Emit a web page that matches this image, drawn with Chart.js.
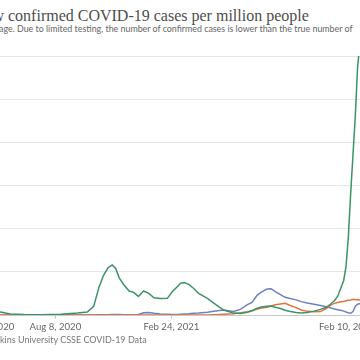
<!DOCTYPE html>
<html>
<head>
<meta charset="utf-8">
<script src="https://cdn.jsdelivr.net/npm/chart.js@4.4.1/dist/chart.umd.min.js"></script>
<style>
  html, body { margin: 0; padding: 0; width: 360px; height: 360px; overflow: hidden; background: #fff; }
  .txt { position: absolute; white-space: nowrap; }
  .pre { position: absolute; right: 100%; top: 0; white-space: nowrap; }
  .wrapline { position: absolute; left: -95px; top: 12px; white-space: nowrap; }
  #title { left: 8px; top: 8px; font: 16px/16px "Liberation Serif", serif; color: #4d4d4d; }
  #subtitle { left: 17px; top: 23px; font: 8.85px/12px Lato, sans-serif; color: #666; }
  #source { left: 0px; top: 334px; font: 9px/11px Lato, sans-serif; color: #777; }
  #wrap { position: absolute; left: -140px; top: 46px; }
</style>
</head>
<body>
<div id="title" class="txt"><span class="pre">Daily new&nbsp;</span>confirmed COVID-19 cases per million people</div>
<div id="subtitle" class="txt"><span class="pre">7-day rolling average.&nbsp;</span>Due to limited testing, the number of confirmed cases is lower than the true number of<span class="wrapline">infections.</span></div>
<div id="wrap"><canvas id="chart" width="555" height="294"></canvas></div>
<div id="source" class="txt"><span class="pre">Source: Johns Hop</span>kins University CSSE COVID-19 Data</div>

<script>
// Datum-Stützstellen (7-Tage-Mittel, Fälle pro Million)
const dates = [
  '2020-01-22', '2020-02-20', '2020-03-10', '2020-03-25', '2020-04-10', '2020-04-25',
  '2020-05-05', '2020-05-22', '2020-06-15', '2020-07-15', '2020-08-17', '2020-09-15',
  '2020-10-02', '2020-10-13', '2020-10-22', '2020-10-30', '2020-11-07', '2020-11-14',
  '2020-11-20', '2020-11-26', '2020-12-04', '2020-12-13', '2020-12-21', '2020-12-29',
  '2021-01-07', '2021-01-16', '2021-01-25', '2021-02-05', '2021-02-17', '2021-02-25',
  '2021-03-06', '2021-03-12', '2021-03-18', '2021-03-26', '2021-04-03', '2021-04-12',
  '2021-04-27', '2021-05-11', '2021-05-25', '2021-06-11', '2021-06-23', '2021-07-05',
  '2021-07-13', '2021-07-22', '2021-07-29', '2021-08-08', '2021-08-15', '2021-08-22',
  '2021-08-31', '2021-09-08', '2021-09-17', '2021-09-27', '2021-10-06', '2021-10-16',
  '2021-10-28', '2021-11-08', '2021-11-18', '2021-11-26', '2021-12-02', '2021-12-08',
  '2021-12-13', '2021-12-18', '2021-12-22', '2021-12-26', '2021-12-30', '2022-01-03',
  '2022-01-07', '2022-01-11', '2022-01-14', '2022-01-18', '2022-01-25', '2022-02-02',
  '2022-02-10'
];

const greenCases = [
  0, 0, 15, 90, 70, 50,
  35, 12, 5, 3, 8, 22,
  35, 100, 320, 460, 550, 580,
  540, 430, 350, 278, 262, 215,
  278, 250, 200, 192, 193, 266,
  328, 367, 375, 355, 310, 250,
  193, 124, 58, 22, 18, 31,
  50, 78, 92, 100, 104, 90,
  75, 55, 40, 28, 22, 30,
  45, 65, 90, 130, 165, 220,
  310, 400, 560, 900, 1400, 1850,
  2300, 2870, 3080, 3150, 2900, 2200,
  1500
];

const blueCases = [
  0, 0, 1, 2, 3, 2,
  1, 1, 1, 1, 1, 1,
  1, 1, 2, 3, 4, 5,
  5, 5, 4, 4, 4, 5,
  25, 30, 20, 12, 8, 6,
  7, 10, 12, 15, 20, 23,
  31, 45, 58, 40, 65, 120,
  145, 230, 265, 300, 305, 270,
  235, 205, 190, 175, 155, 140,
  125, 110, 95, 80, 70, 62,
  55, 45, 35, 25, 20, 40,
  100, 125, 130, 135, 150, 170,
  180
];

const orangeCases = [
  0, 0, 0, 0, 0, 0,
  0, 0, 0, 0, 0, 0,
  0, 0, 0, 0, 0, 0,
  0, 0, 0, 0, 0, 0,
  0, 0, 0, 0, 0, 0,
  0, 0, 0, 0, 0, 0,
  0, 3, 8, 15, 25, 38,
  50, 70, 80, 90, 104, 118,
  127, 135, 110, 85, 58, 42,
  38, 40, 75, 118, 135, 145,
  154, 155, 165, 172, 175, 182,
  178, 180, 175, 174, 190, 200,
  210
];

// Achsenbeschriftungen
const tickDates = ['2020-01-22', '2020-04-11', '2020-08-08', '2021-02-24', '2022-02-10'];
const tickLabels = ['', 'Apr 11, 2020', 'Aug 8, 2020', 'Feb 24, 2021', 'Feb 10, 2022'];
const yTicks = [0, 500, 1000, 1500, 2000, 2500, 3000];

const startDate = Date.parse(dates[0]);
function dayIndex(d) {
    return Math.round((Date.parse(d) - startDate) / 86400000);
}

function toPoints(values) {
    return values.map((v, i) => ({ x: dayIndex(dates[i]), y: v }));
}

const ctx = document.getElementById('chart').getContext('2d');

new Chart(ctx, {
    type: 'line',
    data: {
        datasets: [
            { label: 'green', data: toPoints(greenCases), borderColor: '#3b9468' },
            { label: 'orange', data: toPoints(orangeCases), borderColor: '#e0743c' },
            { label: 'blue', data: toPoints(blueCases), borderColor: '#6f80c2' }
        ]
    },
    options: {
        responsive: false,
        animation: false,
        devicePixelRatio: 1,
        layout: { padding: { top: 10, right: 40, bottom: 0, left: 0 } },
        elements: {
            point: { radius: 0 },
            line: { borderWidth: 1.5, tension: 0 }
        },
        plugins: {
            legend: { display: false },
            tooltip: { enabled: false }
        },
        scales: {
            x: {
                type: 'linear',
                min: 0,
                max: dayIndex(tickDates[tickDates.length - 1]),
                afterBuildTicks: scale => {
                    scale.ticks = tickDates.map(d => ({ value: dayIndex(d) }));
                },
                afterFit: scale => { scale.height = 25; },
                grid: { drawOnChartArea: false, tickLength: 4, color: '#c8c8c8' },
                border: { display: true, color: '#c8c8c8' },
                ticks: {
                    autoSkip: false,
                    maxRotation: 0,
                    align: 'inner',
                    padding: 2,
                    color: '#666',
                    font: { family: 'Lato', size: 9.6 },
                    callback: (value, index) => tickLabels[index]
                }
            },
            y: {
                min: yTicks[0],
                max: yTicks[yTicks.length - 1],
                afterBuildTicks: scale => {
                    scale.ticks = yTicks.map(v => ({ value: v }));
                },
                afterFit: scale => { scale.width = 80; },
                grid: { color: '#e6e6e6', drawTicks: false },
                border: { display: false },
                ticks: {
                    color: '#666',
                    font: { family: 'Lato', size: 9.6 },
                    callback: value => value.toLocaleString('en-US')
                }
            }
        }
    }
});
</script>
</body>
</html>
